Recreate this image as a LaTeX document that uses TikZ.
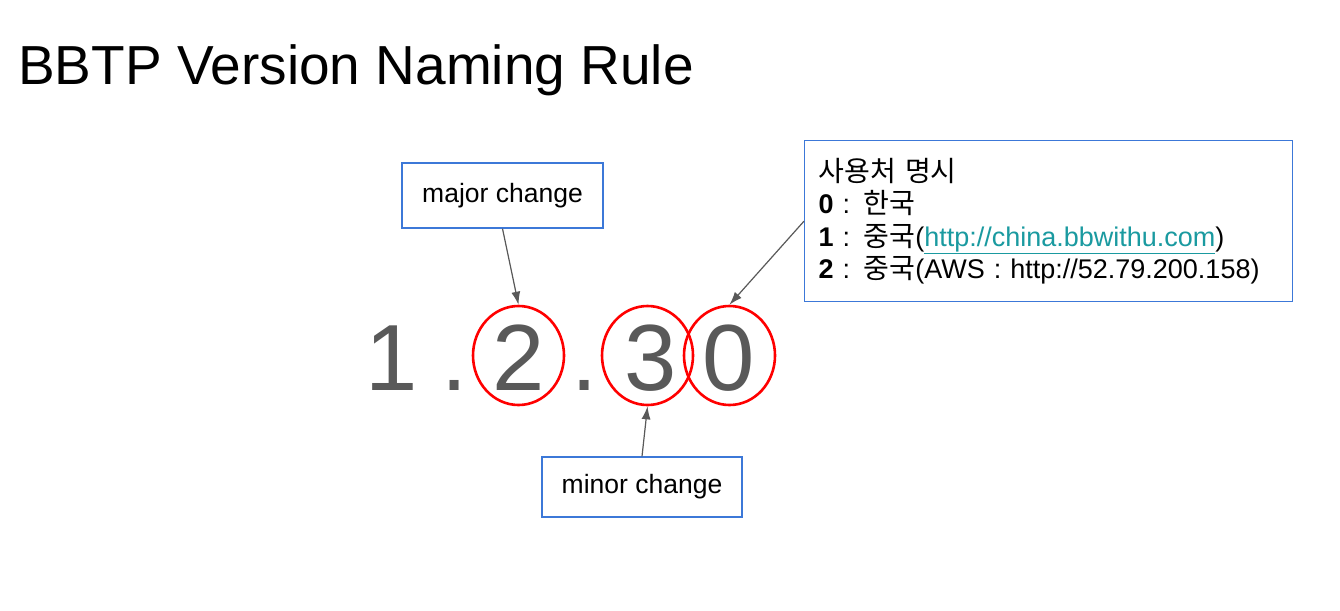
\documentclass[tikz,border=0pt]{standalone}
\usepackage{fontspec}
\setmainfont{Liberation Sans}
\newfontfamily\kr[Scale=1.04]{Noto Sans CJK KR}
\usetikzlibrary{shapes.geometric,arrows.meta}
\definecolor{boxblue}{HTML}{3C78D8}
\definecolor{digitgray}{HTML}{595959}
\definecolor{linkteal}{HTML}{1A9AA0}

\begin{document}
\begin{tikzpicture}[x = 1pt, y = -1pt,
    every node/.style = { inner sep = 0pt },
    digit/.style = { text = digitgray, anchor = base, font = \fontsize{94}{100}\selectfont },
    ring/.style = { draw = red, line width = 2.6pt, shape = ellipse,
                    minimum width = 91pt, minimum height = 99pt },
    namebox/.style = { draw = boxblue, line width = 1.3pt, font = \fontsize{26.5}{30}\selectfont },
    pointer/.style = { draw = digitgray, line width = 1.2pt, -{Latex[length=13pt,width=9pt]} }]
    \useasboundingbox (0,0) rectangle (1340,610);
    \fill[white] (0,0) rectangle (1340,610);

    \node [anchor = base west, font = \fontsize{55}{60}\selectfont] (title) at (18,84) {BBTP Version Naming Rule};

    \node [digit] (d1) at (392,390) {1};
    \node [digit] (p1) at (454.5,390) {.};
    \node [digit] (d2) at (518.5,390) {2};
    \node [digit] (p2) at (585,390) {.};
    \node [digit] (d3) at (650.5,390) {3};
    \node [digit] (d0) at (728.5,390) {0};

    \node [ring] (r2) at (518.5,355.5) {};
    \node [ring] (r3) at (647.5,355.5) {};
    \node [ring] (r0) at (729.5,355.5) {};

    \node [namebox, minimum width = 201pt, minimum height = 65pt] (major) at (502.5,195.5) {major change};
    \node [namebox, minimum width = 200pt, minimum height = 60pt] (minor) at (642,487) {minor change};
    \node [namebox, anchor = north west, minimum height = 161pt, text width = 460pt, inner xsep = 14pt,
           align = left, font = \fontsize{27}{32.5}\selectfont] (users) at (804,140)
          { {\kr 사용처 명시} \\
            \textbf{0} : {\kr 한국} \\
            \textbf{1} : {\kr 중국}(\textcolor{linkteal}{\underline{http://china.bbwithu.com}}) \\
            \textbf{2} : {\kr 중국}(AWS : http://52.79.200.158) };

    \draw [pointer] (major.south) -- (r2.north);
    \draw [pointer] (minor.north) -- (r3.south);
    \draw [pointer] (users.west) -- (r0.north);
\end{tikzpicture}
\end{document}
